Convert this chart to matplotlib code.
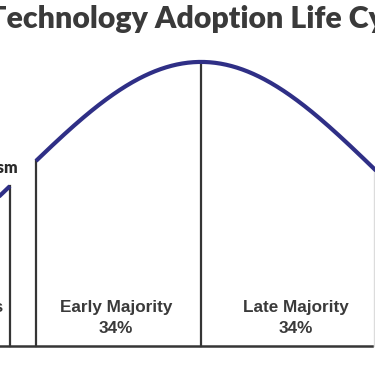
import numpy as np
import matplotlib
matplotlib.use("Agg")
import matplotlib.pyplot as plt

# adoption curve, x in standard deviations from the mean
curve_width = 1.08          # spread of the drawn bell curve
chasm_start = -1.158        # early adopters piece ends here
chasm_end = -1.0            # early majority piece starts here
right_edge = 1.05           # late majority boundary (cut at image edge)

segment_names = ["Early Adopters", "Early Majority", "Late Majority"]
segment_shares = ["13.5%", "34%", "34%"]
segment_label_x = [-1.2, -0.515, 0.576]

title = "Technology Adoption Life Cycle"

curve_color = "#2f2f86"
line_color = "#353535"
text_color = "#3a3a3a"


def bell(x):
    return np.exp(-0.5 * (x / curve_width) ** 2)


def main():
    fig = plt.figure(figsize=(3.75, 3.66), dpi=100)
    ax = fig.add_axes([0, 0, 1, 1])
    ax.set_xlim(-1.218, 1.0545)
    ax.set_ylim(-0.0704, 1.218)
    ax.axis("off")

    # curve, broken by the chasm
    x_left = np.linspace(-1.3, chasm_start, 50)
    x_main = np.linspace(chasm_end, 1.2, 400)
    ax.plot(x_left, bell(x_left), color=curve_color, lw=3, solid_capstyle="butt", zorder=3)
    ax.plot(x_main, bell(x_main), color=curve_color, lw=3, solid_capstyle="butt", zorder=3)

    # segment dividers
    for x in [chasm_start, chasm_end, 0.0]:
        ax.plot([x, x], [0, bell(x)], color=line_color, lw=1.6, zorder=2)
    ax.plot([right_edge, right_edge], [0, bell(right_edge)], color="#dcdcdc", lw=1.0, zorder=1)

    # baseline
    ax.plot([-1.3, 1.035], [0, 0], color=line_color, lw=1.8, zorder=2)

    # labels
    for name, share, x in zip(segment_names, segment_shares, segment_label_x):
        if name == "Early Adopters":
            # only the tail of this label shows at the left edge
            ax.text(x, 0.137, name, ha="right", va="center", fontsize=12.3,
                    family="Liberation Sans", fontweight="bold", color=text_color)
            ax.text(x - 0.35, 0.06, share, ha="center", va="center", fontsize=12.3,
                    family="Liberation Sans", fontweight="bold", color=text_color)
            continue
        ax.text(x, 0.137, name, ha="center", va="center", fontsize=12.3,
                family="Liberation Sans", fontweight="bold", color=text_color)
        ax.text(x, 0.06, share, ha="center", va="center", fontsize=12.3,
                family="Liberation Sans", fontweight="bold", color=text_color)

    ax.text(-1.109, 0.609, "Chasm", ha="right", va="baseline", fontsize=11.5,
            family="Lato", fontweight="heavy", color="#2a2a2a")

    ax.text(-1.291, 1.118, title, ha="left", va="baseline", fontsize=21.8,
            family="Lato", fontweight="heavy", color=text_color)

    fig.savefig("out.png", dpi=100)


if __name__ == "__main__":
    main()
